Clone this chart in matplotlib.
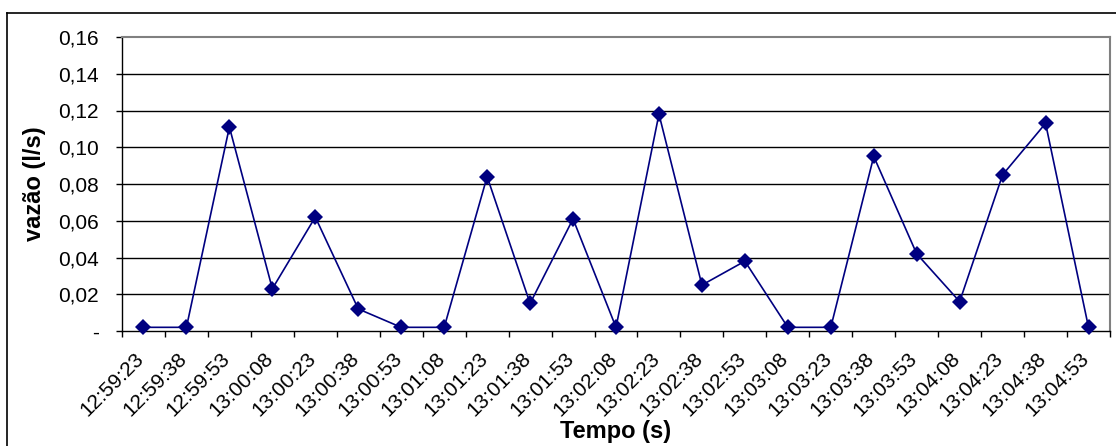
import matplotlib
matplotlib.use("Agg")
import matplotlib.pyplot as plt
import matplotlib.transforms as mtransforms
from matplotlib.lines import Line2D
import numpy as np

plt.rcParams['font.family'] = ['Liberation Sans', 'DejaVu Sans']

# data
tempos = ['12:59:23', '12:59:38', '12:59:53', '13:00:08', '13:00:23', '13:00:38',
          '13:00:53', '13:01:08', '13:01:23', '13:01:38', '13:01:53', '13:02:08',
          '13:02:23', '13:02:38', '13:02:53', '13:03:08', '13:03:23', '13:03:38',
          '13:03:53', '13:04:08', '13:04:23', '13:04:38', '13:04:53']
vazao = [0.002, 0.002, 0.111, 0.023, 0.062, 0.012, 0.002, 0.002, 0.084, 0.015,
         0.061, 0.002, 0.118, 0.025, 0.038, 0.002, 0.002, 0.095, 0.042, 0.016,
         0.085, 0.113, 0.002]
y_ticks = [0.0, 0.02, 0.04, 0.06, 0.08, 0.10, 0.12, 0.14, 0.16]
y_labels = ['-', '0,02', '0,04', '0,06', '0,08', '0,10', '0,12', '0,14', '0,16']

W, H = 1116, 446
fig = plt.figure(figsize=(W / 100, H / 100), dpi=100)
ax = fig.add_axes([122 / W, 1 - 331 / H, (1110 - 122) / W, (331 - 37) / H])

n = len(tempos)
x = np.arange(n)
ax.plot(x, vazao, color='#000080', lw=1.2, marker='D', ms=8,
        markeredgewidth=0, zorder=3, clip_on=False)

ax.set_xlim(-0.5, n - 0.5)
ax.set_ylim(0, 0.16)

# gridlines
ax.set_yticks(y_ticks)
ax.set_yticklabels(y_labels, fontsize=15)
for yv in y_ticks[1:-1]:
    ax.axhline(yv, color='#000000', lw=1.0, zorder=1)

# category labels at the centres, tick marks at the boundaries
ax.set_xticks(x)
ax.set_xticklabels(tempos, fontsize=15, rotation=45, ha='right', va='top',
                   rotation_mode='anchor')
ax.set_xticks(np.arange(n + 1) - 0.5, minor=True)
ax.tick_params(axis='x', which='major', length=0, pad=13)
ax.tick_params(axis='x', which='minor', length=4.5, width=1.0, color='#000000')
ax.tick_params(axis='y', which='major', length=4.5, width=1.0, pad=12,
               color='#000000')
shift = mtransforms.ScaledTranslation(-9 / 100, 0, fig.dpi_scale_trans)
for lab in ax.get_xticklabels():
    lab.set_transform(lab.get_transform() + shift)

for side in ['top', 'right']:
    ax.spines[side].set_color('#808080')
    ax.spines[side].set_linewidth(1.5)
for side in ['left', 'bottom']:
    ax.spines[side].set_color('#000000')
    ax.spines[side].set_linewidth(1.0)

ax.set_xlabel('Tempo (s)', fontsize=17, fontweight='bold')
ax.xaxis.set_label_coords(0.5, -(438 - 331) / (331 - 37), transform=ax.transAxes)
ax.xaxis.label.set_va('baseline')
ax.set_ylabel('vazão (l/s)', fontsize=17, fontweight='bold')
ax.yaxis.set_label_coords(-(122 - 35) / (1110 - 122), 0.5)
ax.yaxis.label.set_va('center')

# chart area border (clipped by the image on the right and bottom)
fig.add_artist(Line2D([7 / W, 7 / W], [0, 1 - 13 / H], transform=fig.transFigure,
                      color='#000000', lw=1.2))
fig.add_artist(Line2D([7 / W, 1], [1 - 13 / H, 1 - 13 / H], transform=fig.transFigure,
                      color='#000000', lw=1.2))

fig.savefig('out.png', dpi=100)
